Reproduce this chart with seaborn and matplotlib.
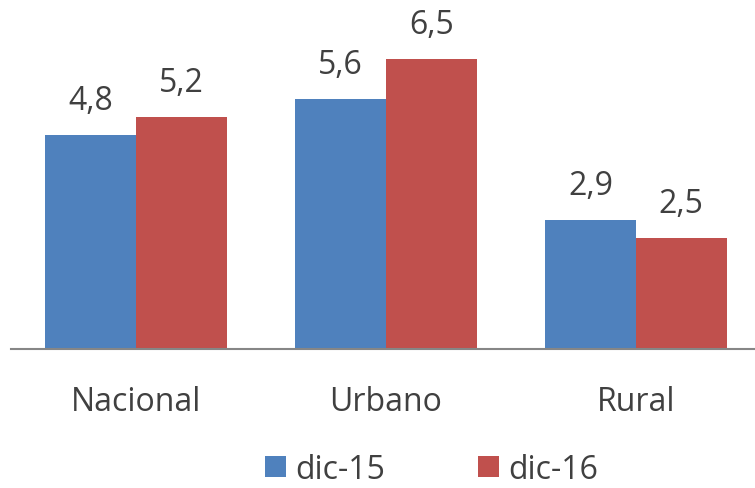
import pandas as pd
import seaborn as sns
import matplotlib.pyplot as plt

categorias = ["Nacional", "Urbano", "Rural"]
series = ["dic-15", "dic-16"]
dic15 = [4.8, 5.6, 2.9]
dic16 = [5.2, 6.5, 2.5]
colores = ["#4F81BD", "#C0504D"]

df = pd.DataFrame({
    "Zona": categorias * 2,
    "Periodo": [series[0]] * 3 + [series[1]] * 3,
    "Valor": dic15 + dic16,
})

sns.set_style("white")
plt.rcParams['font.family'] = ['Open Sans', 'DejaVu Sans']

fig = plt.figure(figsize=(7.55, 4.89), dpi=100)
# area de trazado en coordenadas de figura
ax = fig.add_axes([11 / 755, 139 / 489, 750 / 755, 312 / 489])

sns.barplot(data=df, x="Zona", y="Valor", hue="Periodo", palette=colores,
            width=0.725, saturation=1, linewidth=0, ax=ax, legend=True)

for cont in ax.containers:
    labels = [f"{v:.1f}".replace(".", ",") for v in cont.datavalues]
    ax.bar_label(cont, labels=labels, padding=13, fontsize=23, color="#404040")

ax.set_ylim(0, 7)
ax.set_xlim(-0.5, 2.5)
ax.set_xlabel("")
ax.set_ylabel("")
ax.set_yticks([])
ax.tick_params(axis="x", length=0, pad=26, labelsize=23, labelcolor="#404040")
for s in ["top", "right", "left"]:
    ax.spines[s].set_visible(False)
ax.spines["bottom"].set_color("#868686")
ax.spines["bottom"].set_linewidth(1.5)

ax.legend(loc="lower center", bbox_to_anchor=(0.561, -0.51), ncol=2,
          frameon=False, fontsize=23, handlelength=0.65, handleheight=0.65,
          handletextpad=0.3, columnspacing=2.9, labelcolor="#404040",
          borderpad=0.2)

fig.savefig("out.png", dpi=100)
